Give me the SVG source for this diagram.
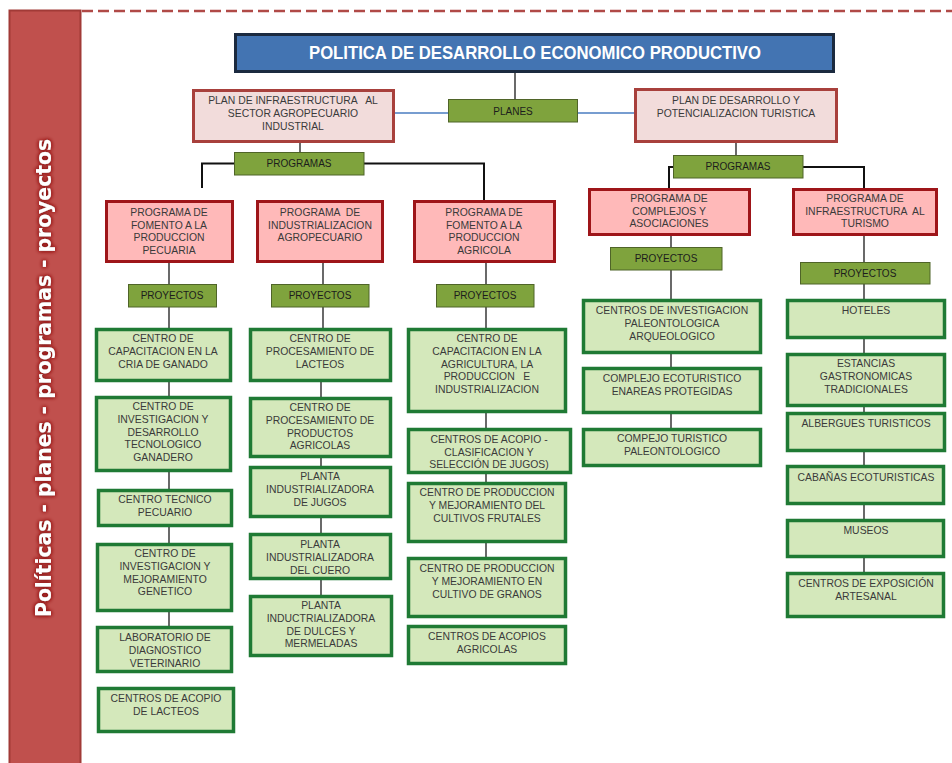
<svg xmlns="http://www.w3.org/2000/svg" width="952" height="763" viewBox="0 0 952 763">
<defs>
<filter id="glow" x="-20%" y="-20%" width="140%" height="140%">
<feGaussianBlur in="SourceAlpha" stdDeviation="2" result="b"/>
<feFlood flood-color="#8e1414"/>
<feComposite in2="b" operator="in" result="g"/>
<feMerge><feMergeNode in="g"/><feMergeNode in="g"/><feMergeNode in="SourceGraphic"/></feMerge>
</filter>
<style>
.t{font-family:"Liberation Sans",Arial,sans-serif;font-size:10.4px;fill:#3a3a3a;text-anchor:middle;white-space:pre}
.g{font-family:"Liberation Sans",Arial,sans-serif;font-size:10px;fill:#1c1c1c;text-anchor:middle}
.plan{fill:#f2dcdb;stroke:#a8403c;stroke-width:3}
.prog{fill:#ffb9b9;stroke:#9e1519;stroke-width:3}
.tag{fill:#7fa33d;stroke:#4f6428;stroke-width:1}
.proj{fill:#d4e8bb;stroke:#1f7a34;stroke-width:3.5}
.c{stroke:#444;stroke-width:1.6;fill:none}
.k{stroke:#111;stroke-width:2;fill:none}
.b{stroke:#4a7cc0;stroke-width:1.6;fill:none}
</style>
</defs>
<rect width="952" height="763" fill="#ffffff"/>

<g id="sidebar">
<rect x="9.5" y="10.5" width="71" height="760" fill="#c0504d" stroke="#a13a37" stroke-width="2"/>
<text x="44" y="378" transform="rotate(-90 44 378)" dominant-baseline="central" text-anchor="middle" font-family="'DejaVu Sans','Liberation Sans',sans-serif" font-weight="bold" font-size="21" fill="#ffffff" textLength="478" lengthAdjust="spacingAndGlyphs" filter="url(#glow)">Políticas - planes - programas - proyectos</text>
</g>
<line x1="82" y1="11" x2="952" y2="11" stroke="#b04a47" stroke-width="2.5" stroke-dasharray="11 5"/>

<g id="connectors">
<line class="c" x1="515" y1="73" x2="515" y2="99"/>
<line class="b" x1="395" y1="113" x2="448" y2="113"/>
<line class="b" x1="578" y1="113" x2="634" y2="113"/>
<line class="c" x1="300" y1="142" x2="300" y2="152"/>
<line class="c" x1="736" y1="142" x2="736" y2="155"/>
<polyline class="k" points="234,163.5 202,163.5 202,188"/>
<polyline class="k" points="364,163.5 484,163.5 484,200"/>
<polyline class="k" points="673,167 669,167 669,188"/>
<polyline class="k" points="803,167 864,167 864,188"/>
<line class="c" x1="169" y1="263" x2="169" y2="328"/>
<line class="c" x1="323" y1="263" x2="323" y2="328"/>
<line class="c" x1="486" y1="263" x2="486" y2="328"/>
<line class="c" x1="671" y1="236" x2="671" y2="299"/>
<line class="c" x1="864" y1="236" x2="864" y2="299"/>
<line class="c" x1="169" y1="382" x2="169" y2="396"/>
<line class="c" x1="169" y1="472" x2="169" y2="489"/>
<line class="c" x1="169" y1="527" x2="169" y2="543"/>
<line class="c" x1="169" y1="612" x2="169" y2="626"/>
<line class="c" x1="321" y1="382" x2="321" y2="397"/>
<line class="c" x1="321" y1="458" x2="321" y2="466"/>
<line class="c" x1="321" y1="518" x2="321" y2="533"/>
<line class="c" x1="321" y1="580" x2="321" y2="595"/>
<line class="c" x1="486" y1="413" x2="486" y2="428"/>
<line class="c" x1="486" y1="474" x2="486" y2="482"/>
<line class="c" x1="486" y1="543" x2="486" y2="557"/>
<line class="c" x1="671" y1="354" x2="671" y2="367"/>
<line class="c" x1="671" y1="414" x2="671" y2="428"/>
<line class="c" x1="864" y1="339" x2="864" y2="353"/>
<line class="c" x1="864" y1="407" x2="864" y2="412"/>
<line class="c" x1="864" y1="452" x2="864" y2="465"/>
<line class="c" x1="864" y1="505" x2="864" y2="519"/>
<line class="c" x1="864" y1="558" x2="864" y2="572"/>
</g>

<g id="title">
<rect x="235.5" y="34.5" width="598" height="37" fill="#4374b2" stroke="#1b2a3f" stroke-width="3"/>
<text x="535" y="58.5" text-anchor="middle" font-family="'Liberation Sans',Arial,sans-serif" font-weight="bold" font-size="17.5" fill="#ffffff" textLength="452" lengthAdjust="spacingAndGlyphs">POLITICA DE DESARROLLO ECONOMICO PRODUCTIVO</text>
</g>

<g id="planes">
<rect class="tag" x="448.5" y="99.5" width="129" height="22.5"/>
<text class="g" x="513" y="114.5">PLANES</text>
</g>

<g id="plan-agro">
<rect class="plan" x="193.5" y="90.5" width="200" height="51"/>
<text class="t" x="293" y="104"><tspan x="293">PLAN DE INFRAESTRUCTURA   AL</tspan><tspan x="293" dy="13">SECTOR AGROPECUARIO</tspan><tspan x="293" dy="13">INDUSTRIAL</tspan></text>
</g>

<g id="plan-turismo">
<rect class="plan" x="635.5" y="89.5" width="201" height="52"/>
<text class="t" x="736" y="104"><tspan x="736">PLAN DE DESARROLLO Y</tspan><tspan x="736" dy="13">POTENCIALIZACION TURISTICA</tspan></text>
</g>

<g id="programas-agro">
<rect class="tag" x="234.5" y="152.5" width="129.5" height="22.5"/>
<text class="g" x="299" y="167">PROGRAMAS</text>
</g>

<g id="programas-turismo">
<rect class="tag" x="673.5" y="155.5" width="129.5" height="22.5"/>
<text class="g" x="738" y="170">PROGRAMAS</text>
</g>

<g id="prog-pecuaria">
<rect class="prog" x="106.5" y="201.5" width="126" height="60"/>
<text class="t" x="169" y="216"><tspan x="169">PROGRAMA DE</tspan><tspan x="169" dy="12.7">FOMENTO A LA</tspan><tspan x="169" dy="12.7">PRODUCCION</tspan><tspan x="169" dy="12.7">PECUARIA</tspan></text>
</g>
<g id="prog-industrializacion">
<rect class="prog" x="257.5" y="201.5" width="125" height="60"/>
<text class="t" x="320" y="216"><tspan x="320">PROGRAMA  DE</tspan><tspan x="320" dy="12.7">INDUSTRIALIZACION</tspan><tspan x="320" dy="12.7">AGROPECUARIO</tspan></text>
</g>
<g id="prog-agricola">
<rect class="prog" x="414.5" y="201.5" width="140" height="60"/>
<text class="t" x="484" y="216"><tspan x="484">PROGRAMA DE</tspan><tspan x="484" dy="12.7">FOMENTO A LA</tspan><tspan x="484" dy="12.7">PRODUCCION</tspan><tspan x="484" dy="12.7">AGRICOLA</tspan></text>
</g>
<g id="prog-complejos">
<rect class="prog" x="589.5" y="189.5" width="160" height="45"/>
<text class="t" x="669" y="202"><tspan x="669">PROGRAMA DE</tspan><tspan x="669" dy="12.7">COMPLEJOS Y</tspan><tspan x="669" dy="12.7">ASOCIACIONES</tspan></text>
</g>
<g id="prog-infra-turismo">
<rect class="prog" x="793.5" y="189.5" width="143" height="45"/>
<text class="t" x="865" y="202"><tspan x="865">PROGRAMA DE</tspan><tspan x="865" dy="12.7">INFRAESTRUCTURA  AL</tspan><tspan x="865" dy="12.7">TURISMO</tspan></text>
</g>

<g id="proy-1"><rect class="tag" x="128.5" y="284.5" width="88" height="22.5"/><text class="g" x="172" y="299">PROYECTOS</text></g>
<g id="proy-2"><rect class="tag" x="271.5" y="284.5" width="97.5" height="22.5"/><text class="g" x="320" y="299">PROYECTOS</text></g>
<g id="proy-3"><rect class="tag" x="436.5" y="284.5" width="97.5" height="22.5"/><text class="g" x="485" y="299">PROYECTOS</text></g>
<g id="proy-4"><rect class="tag" x="610.5" y="247.5" width="111.5" height="22.5"/><text class="g" x="666" y="262">PROYECTOS</text></g>
<g id="proy-5"><rect class="tag" x="800.5" y="262.5" width="129.5" height="21.5"/><text class="g" x="865" y="276.5">PROYECTOS</text></g>

<g id="p1a"><rect class="proj" x="96.5" y="329.5" width="134" height="51"/><text class="t" x="163" y="342"><tspan x="163">CENTRO DE</tspan><tspan x="163" dy="12.8">CAPACITACION EN LA</tspan><tspan x="163" dy="12.8">CRIA DE GANADO</tspan></text></g>
<g id="p1b"><rect class="proj" x="96.5" y="397.5" width="134" height="73"/><text class="t" x="163" y="410"><tspan x="163">CENTRO DE</tspan><tspan x="163" dy="12.8">INVESTIGACION Y</tspan><tspan x="163" dy="12.8">DESARROLLO</tspan><tspan x="163" dy="12.8">TECNOLOGICO</tspan><tspan x="163" dy="12.8">GANADERO</tspan></text></g>
<g id="p1c"><rect class="proj" x="98.5" y="490.5" width="133" height="35"/><text class="t" x="165" y="503"><tspan x="165">CENTRO TECNICO</tspan><tspan x="165" dy="12.8">PECUARIO</tspan></text></g>
<g id="p1d"><rect class="proj" x="97.5" y="544.5" width="134" height="66"/><text class="t" x="165" y="557"><tspan x="165">CENTRO DE</tspan><tspan x="165" dy="12.8">INVESTIGACION Y</tspan><tspan x="165" dy="12.8">MEJORAMIENTO</tspan><tspan x="165" dy="12.8">GENETICO</tspan></text></g>
<g id="p1e"><rect class="proj" x="97.5" y="627.5" width="134" height="44"/><text class="t" x="165" y="641"><tspan x="165">LABORATORIO DE</tspan><tspan x="165" dy="12.8">DIAGNOSTICO</tspan><tspan x="165" dy="12.8">VETERINARIO</tspan></text></g>
<g id="p1f"><rect class="proj" x="98.5" y="688.5" width="135" height="43"/><text class="t" x="166" y="702"><tspan x="166">CENTROS DE ACOPIO</tspan><tspan x="166" dy="12.8">DE LACTEOS</tspan></text></g>

<g id="p2a"><rect class="proj" x="250.5" y="329.5" width="140" height="51"/><text class="t" x="320" y="342"><tspan x="320">CENTRO DE</tspan><tspan x="320" dy="12.8">PROCESAMIENTO DE</tspan><tspan x="320" dy="12.8">LACTEOS</tspan></text></g>
<g id="p2b"><rect class="proj" x="250.5" y="398.5" width="140" height="58"/><text class="t" x="320" y="411"><tspan x="320">CENTRO DE</tspan><tspan x="320" dy="12.8">PROCESAMIENTO DE</tspan><tspan x="320" dy="12.8">PRODUCTOS</tspan><tspan x="320" dy="12.8">AGRICOLAS</tspan></text></g>
<g id="p2c"><rect class="proj" x="250.5" y="467.5" width="140" height="49"/><text class="t" x="320" y="480"><tspan x="320">PLANTA</tspan><tspan x="320" dy="12.8">INDUSTRIALIZADORA</tspan><tspan x="320" dy="12.8">DE JUGOS</tspan></text></g>
<g id="p2d"><rect class="proj" x="250.5" y="534.5" width="140" height="44"/><text class="t" x="320" y="548"><tspan x="320">PLANTA</tspan><tspan x="320" dy="12.8">INDUSTRIALIZADORA</tspan><tspan x="320" dy="12.8">DEL CUERO</tspan></text></g>
<g id="p2e"><rect class="proj" x="250.5" y="596.5" width="141" height="59"/><text class="t" x="321" y="609"><tspan x="321">PLANTA</tspan><tspan x="321" dy="12.8">INDUCTRIALIZADORA</tspan><tspan x="321" dy="12.8">DE DULCES Y</tspan><tspan x="321" dy="12.8">MERMELADAS</tspan></text></g>

<g id="p3a"><rect class="proj" x="408.5" y="329.5" width="157" height="82"/><text class="t" x="487" y="342"><tspan x="487">CENTRO DE</tspan><tspan x="487" dy="12.8">CAPACITACION EN LA</tspan><tspan x="487" dy="12.8">AGRICULTURA, LA</tspan><tspan x="487" dy="12.8">PRODUCCION   E</tspan><tspan x="487" dy="12.8">INDUSTRIALIZACION</tspan></text></g>
<g id="p3b"><rect class="proj" x="408.5" y="429.5" width="162" height="43"/><text class="t" x="489" y="443"><tspan x="489">CENTROS DE ACOPIO -</tspan><tspan x="489" dy="12.7">CLASIFICACION Y</tspan><tspan x="489" dy="12.7">SELECCIÓN DE JUGOS)</tspan></text></g>
<g id="p3c"><rect class="proj" x="408.5" y="483.5" width="157" height="58"/><text class="t" x="487" y="496"><tspan x="487">CENTRO DE PRODUCCION</tspan><tspan x="487" dy="12.8">Y MEJORAMIENTO DEL</tspan><tspan x="487" dy="12.8">CULTIVOS FRUTALES</tspan></text></g>
<g id="p3d"><rect class="proj" x="408.5" y="558.5" width="157" height="58"/><text class="t" x="487" y="572"><tspan x="487">CENTRO DE PRODUCCION</tspan><tspan x="487" dy="12.8">Y MEJORAMIENTO EN</tspan><tspan x="487" dy="12.8">CULTIVO DE GRANOS</tspan></text></g>
<g id="p3e"><rect class="proj" x="408.5" y="626.5" width="157" height="37"/><text class="t" x="487" y="640"><tspan x="487">CENTROS DE ACOPIOS</tspan><tspan x="487" dy="12.8">AGRICOLAS</tspan></text></g>

<g id="p4a"><rect class="proj" x="583.5" y="300.5" width="177" height="52"/><text class="t" x="672" y="314"><tspan x="672">CENTROS DE INVESTIGACION</tspan><tspan x="672" dy="12.8">PALEONTOLOGICA</tspan><tspan x="672" dy="12.8">ARQUEOLOGICO</tspan></text></g>
<g id="p4b"><rect class="proj" x="583.5" y="368.5" width="177" height="44"/><text class="t" x="672" y="382"><tspan x="672">COMPLEJO ECOTURISTICO</tspan><tspan x="672" dy="12.8">ENAREAS PROTEGIDAS</tspan></text></g>
<g id="p4c"><rect class="proj" x="583.5" y="429.5" width="177" height="36"/><text class="t" x="672" y="442"><tspan x="672">COMPEJO TURISTICO</tspan><tspan x="672" dy="12.8">PALEONTOLOGICO</tspan></text></g>

<g id="p5a"><rect class="proj" x="787.5" y="300.5" width="157" height="37"/><text class="t" x="866" y="314">HOTELES</text></g>
<g id="p5b"><rect class="proj" x="787.5" y="354.5" width="157" height="51"/><text class="t" x="866" y="367"><tspan x="866">ESTANCIAS</tspan><tspan x="866" dy="12.8">GASTRONOMICAS</tspan><tspan x="866" dy="12.8">TRADICIONALES</tspan></text></g>
<g id="p5c"><rect class="proj" x="787.5" y="413.5" width="157" height="37"/><text class="t" x="866" y="427">ALBERGUES TURISTICOS</text></g>
<g id="p5d"><rect class="proj" x="787.5" y="466.5" width="156" height="37"/><text class="t" x="866" y="481">CABAÑAS ECOTURISTICAS</text></g>
<g id="p5e"><rect class="proj" x="787.5" y="520.5" width="156" height="36"/><text class="t" x="866" y="534">MUSEOS</text></g>
<g id="p5f"><rect class="proj" x="787.5" y="573.5" width="156" height="43"/><text class="t" x="866" y="587"><tspan x="866">CENTROS DE EXPOSICIÓN</tspan><tspan x="866" dy="12.8">ARTESANAL</tspan></text></g>
</svg>
